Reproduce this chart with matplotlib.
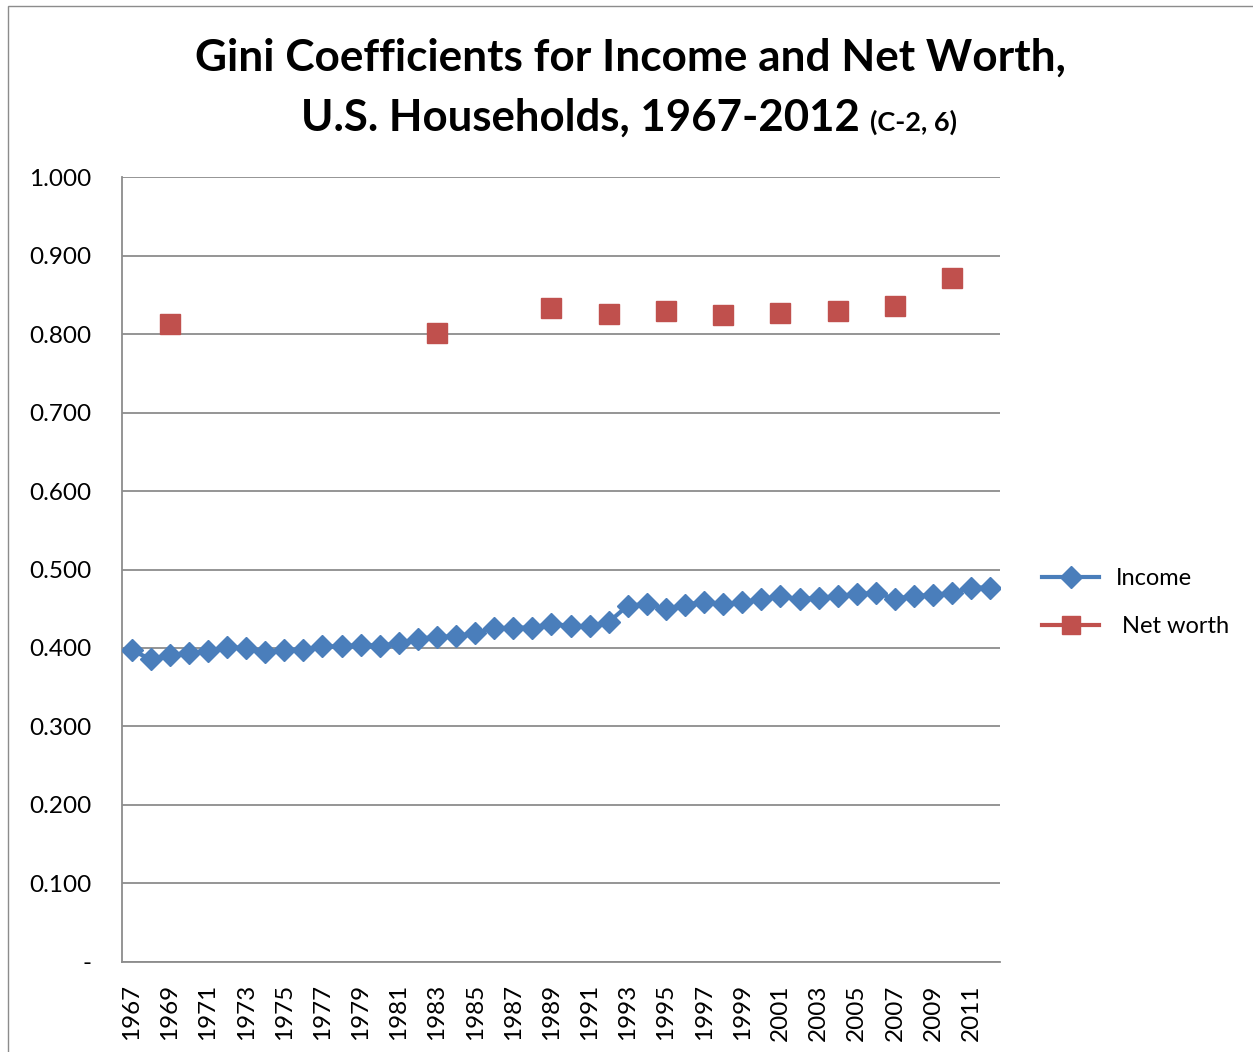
import matplotlib
matplotlib.use("Agg")
import matplotlib.pyplot as plt
from matplotlib.lines import Line2D
from matplotlib.patches import Rectangle
import numpy as np

years = list(range(1967, 2013))
income = [0.397, 0.386, 0.391, 0.394, 0.396, 0.401, 0.400, 0.395, 0.397, 0.398,
          0.402, 0.402, 0.404, 0.403, 0.406, 0.412, 0.414, 0.415, 0.419, 0.425,
          0.426, 0.426, 0.431, 0.428, 0.428, 0.433, 0.454, 0.456, 0.450, 0.455,
          0.459, 0.456, 0.458, 0.462, 0.466, 0.462, 0.464, 0.466, 0.469, 0.470,
          0.463, 0.466, 0.468, 0.470, 0.477, 0.477]
nw_years = [1969, 1983, 1989, 1992, 1995, 1998, 2001, 2004, 2007, 2010]
net_worth = [0.813, 0.801, 0.833, 0.825, 0.829, 0.824, 0.827, 0.829, 0.836, 0.871]
y_ticks = [0.0, 0.1, 0.2, 0.3, 0.4, 0.5, 0.6, 0.7, 0.8, 0.9, 1.0]
y_labels = ["-", "0.100", "0.200", "0.300", "0.400", "0.500", "0.600", "0.700",
            "0.800", "0.900", "1.000"]

blue = "#4A7EBB"
red = "#C0504D"
font = "Lato"

fig = plt.figure(figsize=(12.53, 10.52), dpi=100)
fig.patches.append(Rectangle((0.006, -0.01), 1.2, 1.004, transform=fig.transFigure,
                             fill=False, edgecolor="#8c8c8c", linewidth=1.0))
ax = fig.add_axes([0.0974, 0.0856, 0.7006, 0.7461])

x_inc = np.arange(len(years))
x_nw = [years.index(y) for y in nw_years]
ax.plot(x_inc, income, color=blue, linewidth=3, marker="D", markersize=11,
        markerfacecolor=blue, markeredgecolor=blue, zorder=3)
ax.plot(x_nw, net_worth, linestyle="none", marker="s", markersize=14,
        markerfacecolor=red, markeredgecolor=red, zorder=3)

ax.set_xlim(-0.5, len(years) - 0.5)
ax.set_ylim(0, 1.0)
ax.set_yticks(y_ticks)
ax.set_yticklabels(y_labels, fontsize=17.5, family=font)
xt = x_inc[::2]
ax.set_xticks(xt)
ax.set_xticklabels([str(years[i]) for i in xt], rotation=90, fontsize=17.5, family=font)
ax.tick_params(axis="y", length=0, pad=22)
ax.tick_params(axis="x", length=0, pad=16)
ax.grid(axis="y", color="#8c8c8c", linewidth=1.3)
ax.set_axisbelow(True)
for s in ["top", "right"]:
    ax.spines[s].set_visible(False)
for s in ["left", "bottom"]:
    ax.spines[s].set_color("#8c8c8c")
    ax.spines[s].set_linewidth(1.3)

handles = [Line2D([], [], color=blue, linewidth=3, marker="D", markersize=11),
           Line2D([], [], color=red, linewidth=3, marker="s", markersize=13)]
fig.legend(handles, ["Income", " Net worth"], loc="center left",
           bbox_to_anchor=(0.815, 0.427), frameon=False,
           prop={"family": font, "size": 17}, handlelength=2.4,
           labelspacing=1.15, handletextpad=0.7)

fig.text(0.503, 0.945, "Gini Coefficients for Income and Net Worth,",
         ha="center", va="center", fontsize=31.8, fontweight="bold", family=font)
fig.text(0.463, 0.888, "U.S. Households, 1967-2012", ha="center", va="center",
         fontsize=31.5, fontweight="bold", family=font)
fig.text(0.694, 0.884, "(C-2, 6)", ha="left", va="center",
         fontsize=19.5, fontweight="bold", family=font)

fig.savefig("out.png", dpi=100)
